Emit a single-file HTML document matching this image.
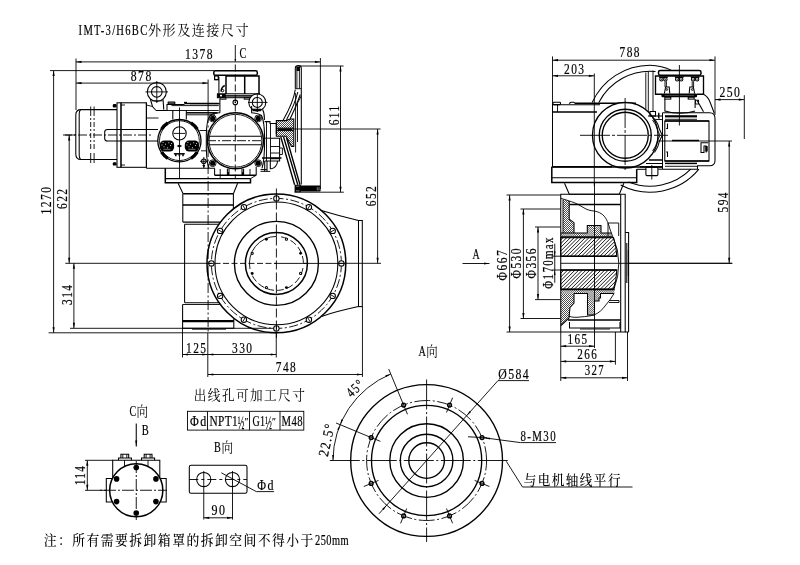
<!DOCTYPE html>
<html lang="zh"><head><meta charset="utf-8"><title>IMT-3/H6BC外形及连接尺寸</title>
<style>
html,body{margin:0;padding:0;background:#fff}
body{width:800px;height:565px;overflow:hidden;font-family:"Liberation Serif","Noto Serif CJK SC",serif}
svg{display:block;will-change:transform}
path,circle,rect,ellipse{fill:none;stroke:#000;stroke-linecap:butt;stroke-linejoin:miter}
.t{stroke-width:.9}
.m{stroke-width:1.05}
.k{stroke-width:1.5}
.kk{stroke-width:2.2}
.b{stroke-width:1.35}
.h{stroke-width:.7}
.h2{stroke-width:.9}
.f{fill:#000;stroke:none}
.fw{fill:#fff}
.d{stroke-dasharray:7 2 1.5 2}
.dd{stroke-dasharray:4 2}
text{fill:#000;stroke:none;font-family:"Liberation Serif","Noto Serif CJK SC",serif}
.c{font-family:"Liberation Serif","Noto Serif CJK SC",serif;font-weight:400}
.cb{font-family:"Liberation Serif","Noto Serif CJK SC",serif;font-weight:500}
.n{stroke:#000;stroke-width:.2}
</style></head>
<body>
<svg width="800" height="565" viewBox="0 0 800 565">
<g id="dims">
<text y="35.1"><tspan class="n" x="78.6" font-size="15" letter-spacing="1.8" textLength="69.85" lengthAdjust="spacingAndGlyphs">IMT-3/H6BC</tspan><tspan class="c" x="148" font-size="13.5" letter-spacing="1.5" textLength="101.96" lengthAdjust="spacingAndGlyphs">外形及连接尺寸</tspan></text>
<path class="t" d="M76 61.9L320.4 61.9"/>
<path class="f" d="M76 61.9L81.5 60.8L81.5 63Z"/>
<path class="f" d="M320.4 61.9L314.9 63L314.9 60.8Z"/>
<path class="t" d="M76 58.5L76 110"/>
<path class="t" d="M320.4 58L320.4 189"/>
<text class="n" x="185" y="59.3" font-size="14.4" letter-spacing="1.8" text-anchor="start" textLength="28.95" lengthAdjust="spacingAndGlyphs">1378</text>
<text class="n" x="239.6" y="57.5" font-size="15.5" letter-spacing="0" text-anchor="start" textLength="6.8" lengthAdjust="spacingAndGlyphs">C</text>
<path class="t" d="M76 83.1L208 83.1"/>
<path class="f" d="M76 83.1L81.5 82L81.5 84.2Z"/>
<path class="f" d="M208 83.1L202.5 84.2L202.5 82Z"/>
<text class="n" x="130.75" y="81" font-size="14.4" letter-spacing="1.8" text-anchor="start" textLength="21.96" lengthAdjust="spacingAndGlyphs">878</text>
<path class="t" d="M53.6 70.6L53.6 332.8"/>
<path class="f" d="M53.6 70.6L54.7 76.1L52.5 76.1Z"/>
<path class="f" d="M53.6 332.8L52.5 327.3L54.7 327.3Z"/>
<path class="t" d="M50 70.6L214 70.6"/>
<path class="t" d="M48.6 332.8L277.3 332.8"/>
<text class="n" x="37.75" y="200.8" font-size="14.4" letter-spacing="1.8" text-anchor="start" transform="rotate(-90 51.5 200.8)" textLength="28.95" lengthAdjust="spacingAndGlyphs">1270</text>
<path class="t" d="M69.2 135L69.2 263.3"/>
<path class="f" d="M69.2 135L70.3 140.5L68.1 140.5Z"/>
<path class="f" d="M69.2 263.3L68.1 257.8L70.3 257.8Z"/>
<text class="n" x="57.2" y="199" font-size="14.4" letter-spacing="1.8" text-anchor="start" transform="rotate(-90 67.2 199)" textLength="21.43" lengthAdjust="spacingAndGlyphs">622</text>
<path class="t" d="M65 135L76 135"/>
<path class="t" d="M73.9 263.3L73.9 328.3"/>
<path class="f" d="M73.9 263.3L75 268.8L72.8 268.8Z"/>
<path class="f" d="M73.9 328.3L72.8 322.8L75 322.8Z"/>
<text class="n" x="62" y="295" font-size="14.4" letter-spacing="1.8" text-anchor="start" transform="rotate(-90 72 295)" textLength="21.43" lengthAdjust="spacingAndGlyphs">314</text>
<path class="t" d="M70 328.3L276.25 328.3"/>
<path class="t" d="M65.3 263.3L206 263.3"/>
<path class="t" d="M340.5 66L340.5 192.2"/>
<path class="f" d="M340.5 66L341.6 71.5L339.4 71.5Z"/>
<path class="f" d="M340.5 192.2L339.4 186.7L341.6 186.7Z"/>
<path class="t" d="M299 66L343.6 66"/>
<path class="t" d="M294.5 192.2L343.8 192.2"/>
<text class="n" x="328.85" y="115.6" font-size="14.4" letter-spacing="1.8" text-anchor="start" transform="rotate(-90 338.6 115.6)" textLength="20.89" lengthAdjust="spacingAndGlyphs">611</text>
<path class="t" d="M377.6 129L377.6 263.3"/>
<path class="f" d="M377.6 129L378.7 134.5L376.5 134.5Z"/>
<path class="f" d="M377.6 263.3L376.5 257.8L378.7 257.8Z"/>
<path class="t" d="M276 129L380.6 129"/>
<text class="n" x="365.7" y="196.2" font-size="14.4" letter-spacing="1.8" text-anchor="start" transform="rotate(-90 375.7 196.2)" textLength="21.43" lengthAdjust="spacingAndGlyphs">652</text>
<path class="t" d="M346 263.3L381 263.3"/>
<path class="t" d="M182.5 354.5L207.8 354.5"/>
<path class="f" d="M182.5 354.5L188 353.4L188 355.6Z"/>
<path class="f" d="M207.8 354.5L202.3 355.6L202.3 353.4Z"/>
<path class="t" d="M207.8 354.5L276.25 354.5"/>
<path class="f" d="M207.8 354.5L213.3 353.4L213.3 355.6Z"/>
<path class="f" d="M276.25 354.5L270.75 355.6L270.75 353.4Z"/>
<text class="n" x="186" y="352.6" font-size="14.4" letter-spacing="1.8" text-anchor="start" textLength="21.43" lengthAdjust="spacingAndGlyphs">125</text>
<text class="n" x="232" y="352.6" font-size="14.4" letter-spacing="1.8" text-anchor="start" textLength="21.43" lengthAdjust="spacingAndGlyphs">330</text>
<path class="t" d="M207.8 374.5L362.45 374.5"/>
<path class="f" d="M207.8 374.5L213.3 373.4L213.3 375.6Z"/>
<path class="f" d="M362.45 374.5L356.95 375.6L356.95 373.4Z"/>
<text class="n" x="275.75" y="371.6" font-size="14.4" letter-spacing="1.8" text-anchor="start" textLength="21.43" lengthAdjust="spacingAndGlyphs">748</text>
<path class="t" d="M182.5 328.3L182.5 357.5"/>
<path class="t" d="M276.25 330.5L276.25 357.5"/>
<path class="t" d="M362.45 306.75L362.45 376.9"/>
<path class="t" d="M552.5 60.2L715 60.2"/>
<path class="f" d="M552.5 60.2L558 59.1L558 61.3Z"/>
<path class="f" d="M715 60.2L709.5 61.3L709.5 59.1Z"/>
<text class="n" x="619.5" y="57.4" font-size="14.4" letter-spacing="1.8" text-anchor="start" textLength="21.43" lengthAdjust="spacingAndGlyphs">788</text>
<path class="t" d="M552.5 56.4L552.5 104"/>
<path class="t" d="M715 56.4L715 115"/>
<path class="t" d="M552.5 75.8L594.3 75.8"/>
<path class="f" d="M552.5 75.8L558 74.7L558 76.9Z"/>
<path class="f" d="M594.3 75.8L588.8 76.9L588.8 74.7Z"/>
<text class="n" x="564" y="73.6" font-size="14.4" letter-spacing="1.8" text-anchor="start" textLength="21.43" lengthAdjust="spacingAndGlyphs">203</text>
<path class="t" d="M715 99.6L744.3 99.6"/>
<path class="f" d="M715 99.6L720.5 98.5L720.5 100.7Z"/>
<path class="f" d="M744.3 99.6L738.8 100.7L738.8 98.5Z"/>
<text class="n" x="719.45" y="97.2" font-size="14.4" letter-spacing="1.8" text-anchor="start" textLength="21.96" lengthAdjust="spacingAndGlyphs">250</text>
<path class="t" d="M744.3 95.2L744.3 139"/>
<path class="t" d="M729.2 141L729.2 263.3"/>
<path class="f" d="M729.2 141L730.3 146.5L728.1 146.5Z"/>
<path class="f" d="M729.2 263.3L728.1 257.8L730.3 257.8Z"/>
<path class="t" d="M626 141L732 141"/>
<path class="t" d="M629 263.3L732.5 263.3"/>
<text class="n" x="717.6" y="202.5" font-size="14.4" letter-spacing="1.8" text-anchor="start" transform="rotate(-90 727.6 202.5)" textLength="21.43" lengthAdjust="spacingAndGlyphs">594</text>
<path class="t" d="M560.75 346.2L594.5 346.2"/>
<path class="f" d="M560.75 346.2L566.25 345.1L566.25 347.3Z"/>
<path class="f" d="M594.5 346.2L589 347.3L589 345.1Z"/>
<text class="n" x="567.55" y="343.8" font-size="14.4" letter-spacing="1.8" text-anchor="start" textLength="20.89" lengthAdjust="spacingAndGlyphs">165</text>
<path class="t" d="M560.75 361.4L615.4 361.4"/>
<path class="f" d="M560.75 361.4L566.25 360.3L566.25 362.5Z"/>
<path class="f" d="M615.4 361.4L609.9 362.5L609.9 360.3Z"/>
<text class="n" x="577.25" y="358.9" font-size="14.4" letter-spacing="1.8" text-anchor="start" textLength="20.89" lengthAdjust="spacingAndGlyphs">266</text>
<path class="t" d="M560.75 377.8L627.5 377.8"/>
<path class="f" d="M560.75 377.8L566.25 376.7L566.25 378.9Z"/>
<path class="f" d="M627.5 377.8L622 378.9L622 376.7Z"/>
<text class="n" x="584.7" y="375.4" font-size="14.4" letter-spacing="1.8" text-anchor="start" textLength="20.36" lengthAdjust="spacingAndGlyphs">327</text>
<path class="t" d="M560.75 332L560.75 381"/>
<path class="t" d="M594.5 332L594.5 348"/>
<path class="t" d="M615.4 332L615.4 364.7"/>
<path class="t" d="M627.5 332L627.5 381"/>
<path class="t" d="M509.6 195L509.6 332"/>
<path class="f" d="M509.6 195L510.7 200.5L508.5 200.5Z"/>
<path class="f" d="M509.6 332L508.5 326.5L510.7 326.5Z"/>
<path class="t" d="M506.5 195L560.6 195"/>
<path class="t" d="M506.5 332L560.6 332"/>
<path class="t" d="M523.4 209L523.4 318.5"/>
<path class="f" d="M523.4 209L524.5 214.5L522.3 214.5Z"/>
<path class="f" d="M523.4 318.5L522.3 313L524.5 313Z"/>
<path class="t" d="M520.5 209L560.6 209"/>
<path class="t" d="M520.5 318.5L560.6 318.5"/>
<path class="t" d="M538 227L538 299.6"/>
<path class="f" d="M538 227L539.1 232.5L536.9 232.5Z"/>
<path class="f" d="M538 299.6L536.9 294.1L539.1 294.1Z"/>
<path class="t" d="M535 227L560.6 227"/>
<path class="t" d="M535 299.6L560.6 299.6"/>
<text class="n" x="492.3" y="265.4" font-size="14.4" letter-spacing="1.8" text-anchor="start" transform="rotate(-90 507.3 265.4)" textLength="31.58" lengthAdjust="spacingAndGlyphs">Φ667</text>
<text class="n" x="506.4" y="263.5" font-size="14.4" letter-spacing="1.8" text-anchor="start" transform="rotate(-90 521.4 263.5)" textLength="31.58" lengthAdjust="spacingAndGlyphs">Φ530</text>
<text class="n" x="521" y="263.5" font-size="14.4" letter-spacing="1.8" text-anchor="start" transform="rotate(-90 536 263.5)" textLength="31.58" lengthAdjust="spacingAndGlyphs">Φ356</text>
<path class="t" d="M554.75 243.7L554.75 282.8"/>
<path class="f" d="M554.75 256.2L553.95 251.2L555.55 251.2Z"/>
<path class="f" d="M554.75 270L555.55 275L553.95 275Z"/>
<path class="t" d="M551.5 256.2L560.6 256.2"/>
<path class="t" d="M551.5 270L560.6 270"/>
<text class="n" x="527.7" y="263.2" font-size="14.4" letter-spacing="1.8" text-anchor="start" transform="rotate(-90 553.2 263.2)" textLength="52.5" lengthAdjust="spacingAndGlyphs">Φ170max</text>
<text class="n" x="472.6" y="259" font-size="14.4" letter-spacing="0" text-anchor="start" textLength="7.2" lengthAdjust="spacingAndGlyphs">A</text>
<path class="t" d="M462.5 263.5L489.5 263.5"/>
<path class="f" d="M489.5 263.5L484 264.6L484 262.4Z"/>
</g>
<g id="front">
<path class="m" d="M117 109.6H81Q75.8 109.6 75.8 115V154Q75.8 159.5 81 159.5H117"/>
<path class="m" d="M80.5 109.8Q79.2 111 79.2 114V155Q79.2 158 80.5 159.3"/>
<path class="t" d="M90.7 106.5L90.7 116"/>
<path class="t" d="M90.7 153L90.7 163"/>
<path class="t" d="M90.7 118L90.7 151" stroke-dasharray="2 2 5 2"/>
<path class="t" d="M94.1 106.5L94.1 116"/>
<path class="t" d="M94.1 153L94.1 163"/>
<path class="t" d="M94.1 118L94.1 151" stroke-dasharray="2 2 5 2"/>
<rect class="m" x="117" y="102.8" width="4" height="64.5"/>
<rect class="m" x="121" y="102.8" width="25.4" height="64.5"/>
<rect class="f" x="112.8" y="104" width="3.8" height="3.4" rx="1.2"/>
<rect class="f" x="112.8" y="162.2" width="3.8" height="3.4" rx="1.2"/>
<path class="t" d="M121 105L125 105"/>
<path class="t" d="M121 165L125 165"/>
<path class="m" d="M158 129.4H107.5Q104.7 129.4 104.7 132V138.4Q104.7 141 107.5 141H158"/>
<path class="t" d="M63 135L152 135" stroke-dasharray="9 2 2 2"/>
<circle class="m" cx="156.8" cy="91.9" r="9.5"/>
<circle class="m" cx="156.8" cy="91.9" r="5.3"/>
<path class="t" d="M145.5 91.9L168 91.9"/>
<path class="t" d="M156.8 81L156.8 103"/>
<path class="m" d="M150.3 99L152.5 106.5L155.6 110"/>
<path class="m" d="M163 99.2L163.8 109.6"/>
<path class="t" d="M151.5 100.8L162.6 100.8"/>
<path class="t" d="M146.4 102.8V105L152.5 106.5"/>
<path class="m" d="M155.6 110.5H167V104.4H184.5"/>
<path class="k" d="M184.5 103.4L218.8 103.4"/>
<path class="t" d="M171.5 105.6L218.8 105.6"/>
<rect class="f" x="167.6" y="101.6" width="7.8" height="2.8" rx="0.8"/>
<path class="t" d="M168.6 103L174.4 103" style="stroke:#fff;stroke-width:.5"/>
<path class="k" d="M184 102.6L187 102.6"/>
<path class="t" d="M167 110.5L218.8 110.5"/>
<path class="k" d="M186.3 112.8L217.5 112.8"/>
<path class="t" d="M186.3 114.8L215 114.8"/>
<path class="t" d="M146.4 118L158.5 118"/>
<path class="m" d="M172.8 119.4V110M186.3 110V119.4"/>
<path class="t" d="M179.5 107.5L179.5 178"/>
<ellipse class="b" cx="179.4" cy="140.65" rx="21.6" ry="21.2"/>
<circle class="t" cx="179.4" cy="140.65" r="19.9"/>
<path class="kk" d="M197.26 152.25A21.3 21.3 0 0 1 191 158.51" style="stroke-width:3.2"/>
<path class="kk" d="M167.8 158.51A21.3 21.3 0 0 1 161.54 152.25" style="stroke-width:3.2"/>
<path class="kk" d="M161.54 129.05A21.3 21.3 0 0 1 167.8 122.79" style="stroke-width:3.2"/>
<path class="kk" d="M191 122.79A21.3 21.3 0 0 1 197.26 129.05" style="stroke-width:3.2"/>
<circle class="m" cx="179.5" cy="133.4" r="6.7"/>
<path class="t" d="M173.6 133.4L185.4 133.4"/>
<rect class="f" x="159.9" y="140.6" width="14.2" height="10.8" rx="4.2"/>
<rect class="f fw" x="162.55" y="141.95" width="0.9" height="0.9"/>
<rect class="f fw" x="165.05" y="143.75" width="0.9" height="0.9"/>
<rect class="f fw" x="168.35" y="142.35" width="0.9" height="0.9"/>
<rect class="f fw" x="170.15" y="145.15" width="0.9" height="0.9"/>
<rect class="f fw" x="163.55" y="146.35" width="0.9" height="0.9"/>
<rect class="f fw" x="167.15" y="147.35" width="0.9" height="0.9"/>
<rect class="f fw" x="161.55" y="144.55" width="0.9" height="0.9"/>
<rect class="f fw" x="171.15" y="143.15" width="0.9" height="0.9"/>
<path class="t" d="M163.5 149.2L170.5 149.4" style="stroke:#fff;stroke-width:.45"/>
<rect class="f" x="184.8" y="140.6" width="14.2" height="10.8" rx="4.2"/>
<rect class="f fw" x="187.45" y="141.95" width="0.9" height="0.9"/>
<rect class="f fw" x="189.95" y="143.75" width="0.9" height="0.9"/>
<rect class="f fw" x="193.25" y="142.35" width="0.9" height="0.9"/>
<rect class="f fw" x="195.05" y="145.15" width="0.9" height="0.9"/>
<rect class="f fw" x="188.45" y="146.35" width="0.9" height="0.9"/>
<rect class="f fw" x="192.05" y="147.35" width="0.9" height="0.9"/>
<rect class="f fw" x="186.45" y="144.55" width="0.9" height="0.9"/>
<rect class="f fw" x="196.05" y="143.15" width="0.9" height="0.9"/>
<path class="t" d="M188.4 149.2L195.4 149.4" style="stroke:#fff;stroke-width:.45"/>
<path class="f" d="M176.6 146L179.4 144.4L182.2 146L179.4 147.6Z"/>
<path class="k" d="M173.9 153.8L184.7 153.8"/>
<path class="k" d="M175.8 154V156.3M179.4 154V156.3M183 154V156.3"/>
<circle class="k" cx="235.45" cy="140.75" r="28"/>
<circle class="t" cx="235.45" cy="140.75" r="26.4"/>
<path class="m" d="M209 168.3Q206 160 206.3 140.7Q206 121 210 115.5Q213 112.8 220 112.8"/>
<path class="m" d="M251 112.8Q258 112.8 261.5 115.5Q264.6 121 264.6 140.7Q264.6 160 262 168.3"/>
<circle class="f" cx="212.7" cy="118.4" r="2.6"/>
<circle class="t" cx="212.7" cy="118.4" r="3.4"/>
<circle class="f" cx="258.2" cy="118.4" r="2.6"/>
<circle class="t" cx="258.2" cy="118.4" r="3.4"/>
<circle class="f" cx="212.7" cy="163.2" r="2.6"/>
<circle class="t" cx="212.7" cy="163.2" r="3.4"/>
<circle class="f" cx="258.2" cy="163.2" r="2.6"/>
<circle class="t" cx="258.2" cy="163.2" r="3.4"/>
<path class="m" d="M209.5 136.3L261.4 136.3"/>
<path class="m" d="M209.5 144.8L261.4 144.8"/>
<path class="t" d="M207 140.7L264 140.7" stroke-dasharray="9 2 2 2"/>
<path class="t" d="M199.5 130.5L206.6 130.5"/>
<path class="t" d="M201 150.8L206.6 150.8"/>
<path class="t" d="M235.3 45L235.3 61.5"/>
<path class="f" d="M235.3 62L234.5 59L236.1 59Z"/>
<path class="t" d="M235.3 64.5L235.3 178" stroke-dasharray="7 3"/>
<rect class="k" x="213.8" y="70.8" width="43.5" height="4.5" rx="1.6"/>
<path class="k" d="M226 94V76H259V94"/>
<path class="k" d="M244.7 76L244.7 94"/>
<path class="m" d="M214.6 75.4V79.6H218.6V76.2M218.9 77V93.7"/>
<rect class="m" x="214.6" y="76" width="3.6" height="3.6"/>
<path class="k" d="M224.8 85.5Q221.5 87 221 91.5"/>
<circle class="t" cx="222.6" cy="90.6" r="1.2"/>
<rect class="m" x="217.4" y="93.8" width="42.2" height="3.9"/>
<rect class="f" x="217.6" y="94" width="8.4" height="3.6" rx="0.8"/>
<rect class="f fw" x="220" y="94.8" width="2" height="1.6"/>
<path class="k" d="M226 95.9L252 95.9"/>
<rect class="t" x="220" y="97.7" width="6" height="1.5"/>
<rect class="t" x="244.2" y="97.7" width="6.4" height="1.5"/>
<path class="m" d="M219.9 99.2V112.8M251.6 99.2V106"/>
<circle class="m" cx="235.3" cy="102.4" r="2.3"/>
<circle class="f" cx="235.3" cy="102.4" r="0.8"/>
<path class="t" d="M190 103.75L219.9 103.75"/>
<circle class="m fw" cx="257.3" cy="102.4" r="8.5"/>
<circle class="m" cx="257.3" cy="102.4" r="5"/>
<path class="t" d="M248 102.4L267.5 102.4"/>
<path class="t" d="M257.3 93L257.3 112"/>
<rect class="f" x="252.5" y="109.2" width="8.6" height="2"/>
<path class="t" d="M252.5 109.2L261.1 109.2"/>
<path class="m" d="M251.6 106V112.6M262.5 109.3Q264.6 113 264.4 120"/>
<path class="m" d="M264.6 121.6H270V123.4H277"/>
<path class="t" d="M266.5 121.6L266.5 161"/>
<path class="m" d="M264.6 161H279.6V138.2H270.5"/>
<path class="t" d="M270.5 123.4L270.5 161"/>
<path class="t" d="M264.6 138.2L270.5 138.2"/>
<path class="t" d="M270.5 146.5L279.6 146.5"/>
<path class="t" d="M270.5 153L279.6 153"/>
<path class="k" d="M270.5 158.5L279.6 158.5"/>
<path class="t" d="M279.6 148H282.4V154.5H279.6"/>
<path class="k" d="M262 158L281.5 158"/>
<path class="m" d="M264.7 161V171.4M267 161V171.4M270.3 161V169"/>
<path class="m" d="M260.5 169.6L267 169.6"/>
<path class="t" d="M260.5 171.4L270.3 171.4"/>
<path class="m" d="M270.3 169Q277 168 277.6 161"/>
<clipPath id="hub1"><path d="M276.3 120.6H286L290 119H293.8V128.2H276.3ZM276.3 130.6H293.8V146.5H291.5L286 136.3H276.3Z"/></clipPath>
<g clip-path="url(#hub1)">
<path class="h" d="M247 118L276 147M249 118L278 147M251 118L280 147M253 118L282 147M255 118L284 147M257 118L286 147M259 118L288 147M261 118L290 147M263 118L292 147M265 118L294 147M267 118L296 147M269 118L298 147M271 118L300 147M273 118L302 147M275 118L304 147M277 118L306 147M279 118L308 147M281 118L310 147M283 118L312 147M285 118L314 147M287 118L316 147M289 118L318 147M291 118L320 147M293 118L322 147M295 118L324 147"/>
</g>
<path class="m" d="M276.3 120.6H286L290 119H293.8V146.5H291.5L286 136.3H276.3Z"/>
<path class="m" d="M276.3 128.2L293.8 128.2"/>
<path class="m" d="M276.3 130.6L293.8 130.6"/>
<path class="k" d="M278 129.4L292 129.4"/>
<path class="m" d="M276.3 123L276.3 134"/>
<path class="m" d="M295.3 88.7V68.3Q295.3 65.6 298.3 65.6Q301.3 65.6 301.3 68.3V184.4"/>
<path class="t" d="M296.9 67L296.9 88.7"/>
<path class="t" d="M299.4 67L299.4 88.7"/>
<rect class="f" x="296.6" y="66.5" width="3.2" height="4.5"/>
<path class="t" d="M295.3 88.7L301.3 88.7"/>
<path class="m" d="M295.3 89.5Q293.5 102 283 120.5M300.3 94.5Q296.5 106 290.2 118.8M297.8 92Q295 104 286.5 119.8"/>
<path class="t" d="M295.6 93L295.6 152.5"/>
<path class="t" d="M301.3 96L297.5 103V142"/>
<path class="b" d="M280.8 137L294.6 184.8M283.6 137L297.8 184.8M286.6 138L300 184.8"/>
<path class="f" d="M294.6 184.8H300.5L301 185.4H320L320.6 186V191L320 191.6H301L300.5 192.2H294.6Z"/>
<path class="t" d="M317.3 187.2L317.3 190.4" style="stroke:#fff;stroke-width:.5"/>
<path class="t" d="M319 187.2L319 190.4" style="stroke:#fff;stroke-width:.5"/>
<path class="t" d="M296 186.3L299.5 186" style="stroke:#fff;stroke-width:.5"/>
<path class="t" d="M296 190.8L299.5 191" style="stroke:#fff;stroke-width:.5"/>
<path class="m" d="M146.4 168.2L215 168.2"/>
<path class="m" d="M146.4 102.8L146.4 168.2"/>
<path class="k" d="M165.3 168.2V182.8H250.5V178.6"/>
<path class="m" d="M165.3 178.6L250.5 178.6"/>
<path class="t" d="M250.5 178.6L256.2 175.3"/>
<path class="m" d="M214.6 168.4L214.6 175.3"/>
<path class="k" d="M214.6 175.3L256.2 175.3"/>
<path class="m" d="M256.2 167L256.2 175.3"/>
<path class="t" d="M220.2 169L220.2 178.6"/>
<path class="t" d="M250 169L250 175.3"/>
<path class="m" d="M227.4 168.7L227.4 175.3"/>
<path class="m" d="M229 168.7L229 175.3"/>
<rect class="f" x="227.4" y="172.2" width="1.6" height="3"/>
<path class="m" d="M242 168.7L242 175.3"/>
<path class="m" d="M243.6 168.7L243.6 175.3"/>
<rect class="f" x="242" y="172.2" width="1.6" height="3"/>
<circle class="m" cx="203.8" cy="161.3" r="2.3"/>
<path class="t" d="M203.8 157L203.8 168"/>
<path class="t" d="M200 161.3L207.6 161.3"/>
<path class="f" d="M202.3 165L205.3 165L203.8 168Z"/>
<path class="m" d="M178.1 183.3L183.1 193.8M237.6 183.3L233.4 193.8"/>
<path class="k" d="M183.1 193.8L233.4 193.8"/>
<path class="k" d="M182.8 204.9L233.4 204.9"/>
<path class="m" d="M182.8 193.8L182.8 222.1"/>
<path class="m" d="M233.4 193.8L233.4 209"/>
<path class="m" d="M182.8 222.1L220.6 222.1"/>
<path class="m" d="M184.6 224.2L219.3 224.2"/>
<path class="m" d="M184.6 224.2L184.6 302.8"/>
<path class="m" d="M184.8 302.8L218.7 302.8"/>
<path class="t" d="M182.6 304.5L219.9 304.5"/>
<path class="m" d="M182.6 304.5V328.3H233.8V318.7"/>
<path class="kk" d="M182.6 321.2L233.8 321.2"/>
<path class="t" d="M192 329.2L226 329.2"/>
<path class="t" d="M208.1 79.5L208.1 113"/>
<path class="t" d="M208.1 113L208.1 333" stroke-dasharray="10 2.5 2 2.5"/>
<path class="t" d="M207.8 333L207.8 377"/>
</g>
<g id="gear">
<path class="m" d="M320.5 210.2Q338 215.5 358.5 220.5M358.5 306.6Q338 311 321.5 316.4"/>
<rect class="m" x="358.5" y="220.5" width="3.8" height="86.1"/>
<circle class="k" cx="276.4" cy="263.4" r="69.4"/>
<circle class="m" cx="276.4" cy="263.4" r="61.4"/>
<circle class="t" cx="276.4" cy="263.4" r="65" stroke-dasharray="9 2.5 2 2.5"/>
<circle class="m fw" cx="341.4" cy="263.4" r="2.7"/>
<path class="t" d="M339.2 263.4L343.6 263.4"/>
<circle class="m fw" cx="332.69" cy="295.9" r="2.7"/>
<path class="t" d="M330.79 294.8L334.6 297"/>
<circle class="m fw" cx="308.9" cy="319.69" r="2.7"/>
<path class="t" d="M307.8 317.79L310 321.6"/>
<circle class="m fw" cx="276.4" cy="328.4" r="2.7"/>
<path class="t" d="M276.4 326.2L276.4 330.6"/>
<circle class="m fw" cx="243.9" cy="319.69" r="2.7"/>
<path class="t" d="M245 317.79L242.8 321.6"/>
<circle class="m fw" cx="220.11" cy="295.9" r="2.7"/>
<path class="t" d="M222.01 294.8L218.2 297"/>
<circle class="m fw" cx="211.4" cy="263.4" r="2.7"/>
<path class="t" d="M213.6 263.4L209.2 263.4"/>
<circle class="m fw" cx="220.11" cy="230.9" r="2.7"/>
<path class="t" d="M222.01 232L218.2 229.8"/>
<circle class="m fw" cx="243.9" cy="207.11" r="2.7"/>
<path class="t" d="M245 209.01L242.8 205.2"/>
<circle class="m fw" cx="276.4" cy="198.4" r="2.7"/>
<path class="t" d="M276.4 200.6L276.4 196.2"/>
<circle class="m fw" cx="308.9" cy="207.11" r="2.7"/>
<path class="t" d="M307.8 209.01L310 205.2"/>
<circle class="m fw" cx="332.69" cy="230.9" r="2.7"/>
<path class="t" d="M330.79 232L334.6 229.8"/>
<circle class="b" cx="276.4" cy="263.4" r="42"/>
<circle class="k" cx="276.4" cy="263.4" r="31"/>
<path class="t" d="M249.99 269.01A27 27 0 0 1 276.4 236.4"/>
<path class="t" d="M281.09 236.81A27 27 0 0 1 303.4 263.4" stroke-dasharray="7 3"/>
<path class="t" d="M302.99 268.09A27 27 0 0 1 251.03 272.63" stroke-dasharray="7 3"/>
<path class="t" d="M276.4 232.4L276.4 236.4"/>
<path class="t" d="M303.4 263.4L307.4 263.4"/>
<circle class="m fw" cx="300.61" cy="273.43" r="1.1"/>
<circle class="f" cx="286.43" cy="287.61" r="1.45"/>
<circle class="m fw" cx="266.37" cy="287.61" r="1.1"/>
<circle class="f" cx="252.19" cy="273.43" r="1.45"/>
<circle class="m fw" cx="252.19" cy="253.37" r="1.1"/>
<circle class="f" cx="266.37" cy="239.19" r="1.45"/>
<circle class="m fw" cx="286.43" cy="239.19" r="1.1"/>
<circle class="f" cx="300.61" cy="253.37" r="1.45"/>
<path class="t" d="M276.4 188.5L276.4 338" stroke-dasharray="9 3"/>
<path class="t" d="M206 263.4L276.4 263.4" stroke-dasharray="6 2.5"/>
<path class="t" d="M274.4 263.4L346 263.4"/>
</g>
<g id="side">
<path class="m" d="M592.17 102.47A63.5 63.5 0 0 1 650 65.2"/>
<path class="m" d="M650 65.2Q662 65.5 671.5 70.4"/>
<path class="m" d="M598.81 102.51A57.5 57.5 0 0 1 655.51 71.46"/>
<path class="m" d="M698.93 169.18A63.5 63.5 0 0 1 620.68 185.03"/>
<path class="m" d="M690.8 169.22A57.5 57.5 0 0 1 628.46 182.01"/>
<path class="t" d="M645.8 72.5L645.8 112"/>
<path class="t" d="M653 70.5L653 112"/>
<path class="t" d="M648.3 71.5L648.3 112"/>
<path class="m" d="M552.5 104L552.5 166.8"/>
<path class="m" d="M552.5 104.8L600 104.8"/>
<path class="k" d="M552.5 112L597 112"/>
<path class="t" d="M557.5 104.8L557.5 112"/>
<rect class="m" x="553" y="102.2" width="7.5" height="2.4" rx="0.8"/>
<path class="m" d="M569 103.5L571 102.2H574L575 103.5"/>
<path class="k" d="M575 103.3L636 103.3"/>
<path class="k" d="M552.5 166.8L612 166.8"/>
<path class="k" d="M551.8 166.8V182.6H636.7V169.3"/>
<path class="m" d="M551.8 177.8L636.5 177.8"/>
<path class="m" d="M564.5 183.3L569.3 194.3M623.8 183.3L619.3 194.3"/>
<circle class="b fw" cx="625.25" cy="135.25" r="32.8"/>
<circle class="b" cx="625.25" cy="135.25" r="26"/>
<circle class="b" cx="625.25" cy="135.25" r="23"/>
<path class="k" d="M551.8 166.9L662.5 166.9"/>
<path class="t" d="M580 135.3L668 135.3" stroke-dasharray="30 2 3 2"/>
<path class="t" d="M625.1 98L625.1 172" stroke-dasharray="30 2 3 2"/>
<path class="m" d="M654.5 118.5Q658.5 124 659.3 129L662.3 135.3L659.3 141.5Q658.5 147 654.5 152.5"/>
<path class="t" d="M652.5 120Q656.5 125 657.5 130L660 135.3L657.5 140.5Q656.5 146 652.5 151"/>
<rect class="k" x="658.5" y="70.5" width="42.5" height="4.7" rx="1.7"/>
<path class="b" d="M662 94.2H655.5V76H703.5V94.2H697"/>
<circle class="m" cx="661.4" cy="79.2" r="1.7"/>
<circle class="m" cx="665.4" cy="79.2" r="1.7"/>
<path class="k" d="M659.1 77.2L667.7 77.2"/>
<circle class="f" cx="661.4" cy="79.2" r="0.6"/>
<circle class="f" cx="665.4" cy="79.2" r="0.6"/>
<circle class="m" cx="677.2" cy="79.2" r="1.7"/>
<circle class="m" cx="681.2" cy="79.2" r="1.7"/>
<path class="k" d="M674.9 77.2L683.5 77.2"/>
<circle class="f" cx="677.2" cy="79.2" r="0.6"/>
<circle class="f" cx="681.2" cy="79.2" r="0.6"/>
<circle class="m" cx="693.1" cy="79.2" r="1.7"/>
<circle class="m" cx="697.1" cy="79.2" r="1.7"/>
<path class="k" d="M690.8 77.2L699.4 77.2"/>
<circle class="f" cx="693.1" cy="79.2" r="0.6"/>
<circle class="f" cx="697.1" cy="79.2" r="0.6"/>
<path class="t" d="M665 81.3V87M666.4 81.3V87M692.2 81.3V87M693.6 81.3V87"/>
<path class="m" d="M664.4 93.5L665.6 87H669.2L669.8 93.5M689.2 93.5L689.8 87H693.4L694.6 93.5"/>
<circle class="t" cx="666.8" cy="89.5" r="0.9"/>
<circle class="t" cx="692.3" cy="89.5" r="0.9"/>
<rect class="f" x="661.4" y="93.6" width="35.7" height="3.6" rx="1.2"/>
<path class="t" d="M664.5 95.4L694 95.4" style="stroke:#777;stroke-width:.6"/>
<rect class="m" x="664.8" y="97.2" width="6" height="1.9"/>
<rect class="m" x="688.2" y="97.2" width="6" height="1.9"/>
<path class="m" d="M664.9 99.1V111.4M695.1 99.1V108"/>
<path class="t" d="M679.4 65L679.4 125.5"/>
<path class="m" d="M664.9 111Q680 115.5 695.1 111"/>
<path class="m" d="M703.5 94.2Q708 96.5 710 102L714.4 113.5"/>
<path class="m" d="M697 100.2L703.5 111.8"/>
<rect class="t" x="695.6" y="100.2" width="3" height="3.8"/>
<path class="m" d="M662.5 112.8H709.5Q715 112.8 715 118.5V160.5Q715 165.8 709.5 165.8H697.5V169.2H662.5"/>
<path class="m" d="M664.8 121H709V161H664.8Z"/>
<path class="k" d="M664.8 121L709 121"/>
<path class="k" d="M664.8 161L709 161"/>
<path class="m" d="M662.5 112.8L662.5 169.2"/>
<path class="t" d="M658.5 112.8L658.5 118"/>
<path class="kk" d="M665 116.3L697 116.3"/>
<path class="t" d="M665 119.3L697 119.3"/>
<path class="k" d="M665 163.4L697 163.4"/>
<path class="t" d="M665 166.3L697 166.3"/>
<path class="k" d="M672 140.5L699 140.5"/>
<path class="m" d="M708.2 142.8H701V152.5H704V146H706.2V152.5"/>
<rect class="f" x="705.3" y="146" width="2.4" height="5.5"/>
<path class="m" d="M667.5 123.5V128.5H666.2M667.5 157V152H666.2"/>
<rect class="m" x="650" y="111.5" width="5.5" height="4.5"/>
<path class="m" d="M648 116L662.5 116"/>
<path class="t" d="M655.5 119.5L662.5 119.5"/>
<path class="t" d="M659 112.8L659 119.5"/>
<path class="k" d="M649 160L662.5 160"/>
<path class="m" d="M646 163.5L662.5 163.5"/>
<path class="k" d="M640 166.8L662.5 166.8"/>
<rect class="m" x="645.9" y="167.3" width="12" height="8.3" rx="1"/>
<path class="t" d="M651.8 165L651.8 179.5"/>
<path class="m" d="M636.7 169.3L646.2 169.3"/>
<path class="m" d="M658.2 169.2L662.5 169.2"/>
<path class="t" d="M594.3 73.5L594.3 186"/>
</g>
<g id="sect">
<path class="m" d="M569.3 194.3L619.3 194.3"/>
<path class="m" d="M560.75 332V194.3H625.2V332Z"/>
<path class="m" d="M620.7 194.3L620.7 332"/>
<path class="m" d="M625.2 232.5H628.6V332"/>
<path class="m" d="M625.2 332L628.6 332"/>
<path class="k" d="M569.5 204.6L620.7 204.6"/>
<path class="t" d="M594.5 183L594.5 332"/>
<path class="t" d="M608 236V223H618.7V236"/>
<path class="t" d="M609 300.5H619V302.5H609"/>
<path class="t" d="M560.75 198.4C564 199 566 200 569.2 201C573 202 575 203 578 204.4C581 206 583 207.5 586 209C589 210.3 591 210.7 594 211C597 211.5 599 212.3 601 213.5C603.5 215 605 217 606.3 219.2C608 222.5 609 225.5 609.9 229C611 232 611.8 234 612.5 236"/>
<path class="t" d="M568.5 316C572 317.5 576 317.6 580 317C586 316.6 591 316 595 314.5C599 312.8 602.5 309.5 605 306C608.5 302 611.5 298 614 293.6"/>
<clipPath id="su1"><path d="M563 199.5L569.2 201V219.2L574 222.7V233H563Z"/></clipPath>
<g clip-path="url(#su1)">
<path class="h" d="M524 234L560 198M526 234L562 198M528 234L564 198M530 234L566 198M532 234L568 198M534 234L570 198M536 234L572 198M538 234L574 198M540 234L576 198M542 234L578 198M544 234L580 198M546 234L582 198M548 234L584 198M550 234L586 198M552 234L588 198M554 234L590 198M556 234L592 198M558 234L594 198M560 234L596 198M562 234L598 198M564 234L600 198M566 234L602 198M568 234L604 198M570 234L606 198M572 234L608 198M574 234L610 198M576 234L612 198M578 234L614 198"/>
</g>
<path class="t" d="M563 199.5V233"/>
<path class="m" d="M569.2 201V219.2L574 222.7V233"/>
<clipPath id="su2"><path d="M560.75 233H611.6L612.5 236.7H560.75ZM587.3 225.4H601V233H587.3Z"/></clipPath>
<g clip-path="url(#su2)">
<path class="h" d="M548 225L560 237M550.1 225L562.1 237M552.2 225L564.2 237M554.3 225L566.3 237M556.4 225L568.4 237M558.5 225L570.5 237M560.6 225L572.6 237M562.7 225L574.7 237M564.8 225L576.8 237M566.9 225L578.9 237M569 225L581 237M571.1 225L583.1 237M573.2 225L585.2 237M575.3 225L587.3 237M577.4 225L589.4 237M579.5 225L591.5 237M581.6 225L593.6 237M583.7 225L595.7 237M585.8 225L597.8 237M587.9 225L599.9 237M590 225L602 237M592.1 225L604.1 237M594.2 225L606.2 237M596.3 225L608.3 237M598.4 225L610.4 237M600.5 225L612.5 237M602.6 225L614.6 237M604.7 225L616.7 237M606.8 225L618.8 237M608.9 225L620.9 237M611 225L623 237M613.1 225L625.1 237"/>
</g>
<path class="m" d="M560.75 233H587.3V225.4H601V233H611.6"/>
<path class="k" d="M560.75 237L613 237"/>
<clipPath id="sl1"><path d="M561 293.5H574V303L570 307.5L569 318L561 325.5Z"/></clipPath>
<g clip-path="url(#sl1)">
<path class="h" d="M527 326L560 293M529 326L562 293M531 326L564 293M533 326L566 293M535 326L568 293M537 326L570 293M539 326L572 293M541 326L574 293M543 326L576 293M545 326L578 293M547 326L580 293M549 326L582 293M551 326L584 293M553 326L586 293M555 326L588 293M557 326L590 293M559 326L592 293M561 326L594 293M563 326L596 293M565 326L598 293M567 326L600 293M569 326L602 293M571 326L604 293M573 326L606 293M575 326L608 293M577 326L610 293"/>
</g>
<path class="m" d="M574 293.5V303L570 307.5L569 318L561 325.5"/>
<clipPath id="sl2"><path d="M561 289.6H614.5V293.5H561ZM587.5 293.5H600.5V298H599V301H594.5V315H587.5Z"/></clipPath>
<g clip-path="url(#sl2)">
<path class="h" d="M533 289L560 316M535.1 289L562.1 316M537.2 289L564.2 316M539.3 289L566.3 316M541.4 289L568.4 316M543.5 289L570.5 316M545.6 289L572.6 316M547.7 289L574.7 316M549.8 289L576.8 316M551.9 289L578.9 316M554 289L581 316M556.1 289L583.1 316M558.2 289L585.2 316M560.3 289L587.3 316M562.4 289L589.4 316M564.5 289L591.5 316M566.6 289L593.6 316M568.7 289L595.7 316M570.8 289L597.8 316M572.9 289L599.9 316M575 289L602 316M577.1 289L604.1 316M579.2 289L606.2 316M581.3 289L608.3 316M583.4 289L610.4 316M585.5 289L612.5 316M587.6 289L614.6 316M589.7 289L616.7 316M591.8 289L618.8 316M593.9 289L620.9 316M596 289L623 316M598.1 289L625.1 316M600.2 289L627.2 316M602.3 289L629.3 316M604.4 289L631.4 316M606.5 289L633.5 316M608.6 289L635.6 316M610.7 289L637.7 316M612.8 289L639.8 316M614.9 289L641.9 316M617 289L644 316"/>
</g>
<path class="m" d="M574 293.5H587.5V315H594.5V301H599V298H600.5V293.5H613.8"/>
<path class="k" d="M560.75 289.6L614.6 289.6"/>
<clipPath id="sv"><path d="M560.75 237.8H613.6Q616.5 247 616.8 256.2H560.75ZM560.75 270H616.8Q616.5 280 613.6 289H560.75Z"/></clipPath>
<g clip-path="url(#sv)">
<path class="h2" d="M507 290L560 237M510.7 290L563.7 237M514.4 290L567.4 237M518.1 290L571.1 237M521.8 290L574.8 237M525.5 290L578.5 237M529.2 290L582.2 237M532.9 290L585.9 237M536.6 290L589.6 237M540.3 290L593.3 237M544 290L597 237M547.7 290L600.7 237M551.4 290L604.4 237M555.1 290L608.1 237M558.8 290L611.8 237M562.5 290L615.5 237M566.2 290L619.2 237M569.9 290L622.9 237M573.6 290L626.6 237M577.3 290L630.3 237M581 290L634 237M584.7 290L637.7 237M588.4 290L641.4 237M592.1 290L645.1 237M595.8 290L648.8 237M599.5 290L652.5 237M603.2 290L656.2 237M606.9 290L659.9 237M610.6 290L663.6 237M614.3 290L667.3 237M618 290L671 237M621.7 290L674.7 237"/>
</g>
<path class="m" d="M560.75 237.8H613.6Q616.5 247 616.8 256.2H560.75Z"/>
<path class="m" d="M560.75 270H616.8Q616.5 280 613.6 289H560.75Z"/>
<path class="k" d="M560.75 256.2L616.8 256.2"/>
<path class="k" d="M560.75 270L616.8 270"/>
<path class="t" d="M613 236.7Q618.8 250 618.8 263.3Q618.8 277 613.8 289.6"/>
<path class="m" d="M594.5 256.2L594.5 270"/>
<path class="m" d="M626.8 243L626.8 283"/>
<path class="t" d="M628.3 250L628.3 276"/>
<path class="k" d="M568 320L620.7 320"/>
<path class="m" d="M569.5 322V328H620V322"/>
<path class="t" d="M580 329L610 329"/>
<path class="t" d="M560.75 263.3L732 263.3"/>
</g>
<g id="aview">
<text y="355.5"><tspan class="n" x="418.6" font-size="15" letter-spacing="0" textLength="7.4" lengthAdjust="spacingAndGlyphs">A</tspan><tspan class="c" x="426.2" font-size="13.5" letter-spacing="0" textLength="11.4" lengthAdjust="spacingAndGlyphs">向</tspan></text>
<circle class="b" cx="426.6" cy="460.5" r="75.9"/>
<circle class="b" cx="426.6" cy="460.5" r="55.1"/>
<circle class="b" cx="426.6" cy="460.5" r="36.8"/>
<circle class="b" cx="426.6" cy="460.5" r="26.3"/>
<circle class="b" cx="426.6" cy="460.5" r="17.8"/>
<circle class="t" cx="426.6" cy="460.5" r="60" stroke-dasharray="16 2.5 2 2.5" stroke-dashoffset="6"/>
<circle class="k fw" cx="482.03" cy="483.46" r="1.85"/>
<path class="t" d="M474.64 480.4L489.42 486.52"/>
<circle class="k fw" cx="449.56" cy="515.93" r="1.85"/>
<path class="t" d="M446.5 508.54L452.62 523.32"/>
<circle class="k fw" cx="403.64" cy="515.93" r="1.85"/>
<path class="t" d="M406.7 508.54L400.58 523.32"/>
<circle class="k fw" cx="371.17" cy="483.46" r="1.85"/>
<path class="t" d="M378.56 480.4L363.78 486.52"/>
<circle class="k fw" cx="371.17" cy="437.54" r="1.85"/>
<circle class="k fw" cx="403.64" cy="405.07" r="1.85"/>
<circle class="k fw" cx="449.56" cy="405.07" r="1.85"/>
<path class="t" d="M446.5 412.46L452.62 397.68"/>
<circle class="k fw" cx="482.03" cy="437.54" r="1.85"/>
<path class="t" d="M468.03 436.74L487.03 437.84"/>
<path class="t" d="M329.8 460.5L508.8 460.5" stroke-dasharray="30 2.5 2 2.5"/>
<path class="t" d="M426.6 379.5L426.6 542" stroke-dasharray="30 2.5 2 2.5"/>
<path class="t" d="M380.41 441.37L336.06 423"/>
<path class="t" d="M407.47 414.31L388.71 369.04"/>
<path class="t" d="M333 460.5A93.6 93.6 0 0 1 390.78 374.02"/>
<path class="f" d="M333 460.5L332.1 455L333.9 455Z"/>
<path class="f" d="M340.12 424.68L338.85 430.11L337.19 429.42Z"/>
<path class="f" d="M340.12 424.68L341.4 419.26L343.06 419.94Z"/>
<path class="f" d="M390.78 374.02L386.04 376.96L385.36 375.3Z"/>
<text class="n" x="349.01" y="391.91" font-size="14.4" letter-spacing="1.8" text-anchor="start" transform="rotate(-43 358.01 391.91)" textLength="19.29" lengthAdjust="spacingAndGlyphs">45°</text>
<text class="n" x="314.75" y="441.1" font-size="14.4" letter-spacing="1.8" text-anchor="start" transform="rotate(-78 331.25 441.1)" textLength="34.38" lengthAdjust="spacingAndGlyphs">22.5°</text>
<text class="n" x="498.15" y="379.2" font-size="14.4" letter-spacing="1.8" text-anchor="start" textLength="32.11" lengthAdjust="spacingAndGlyphs">Ø584</text>
<path class="t" d="M498 380.6L529 380.6"/>
<path class="t" d="M498 380.6L378.96 513.81"/>
<path class="f" d="M466.58 415.76L469.57 411.06L470.92 412.26Z"/>
<path class="f" d="M386.62 505.24L383.63 509.94L382.28 508.74Z"/>
<text class="n" x="520.5" y="440.6" font-size="14.4" letter-spacing="1.8" text-anchor="start" textLength="36.46" lengthAdjust="spacingAndGlyphs">8-M30</text>
<path class="t" d="M520.4 442.6L556 442.6"/>
<path class="t" d="M520.4 442.6L484.53 437.84"/>
<path class="f" d="M484.53 437.84L490.1 437.67L489.87 439.45Z"/>
<path class="t" d="M506.3 461.3L522.5 487"/>
<path class="t" d="M522.5 487L632.5 487"/>
<text class="cb" x="523.8" y="485" font-size="13.5" letter-spacing="1.5" text-anchor="start" textLength="98.1" lengthAdjust="spacingAndGlyphs">与电机轴线平行</text>
</g>
<g id="small">
<text class="c" x="193.8" y="400.3" font-size="13.5" letter-spacing="1.5" text-anchor="start" textLength="112.41" lengthAdjust="spacingAndGlyphs">出线孔可加工尺寸</text>
<rect class="t" x="187.5" y="411.3" width="116.3" height="18.8"/>
<path class="t" d="M207.5 411.3L207.5 430.1"/>
<path class="t" d="M249.5 411.3L249.5 430.1"/>
<path class="t" d="M280 411.3L280 430.1"/>
<text class="n" x="190.1" y="426" font-size="14.4" letter-spacing="1.8" text-anchor="start" textLength="17.78" lengthAdjust="spacingAndGlyphs">Φd</text>
<text y="426"><tspan class="n" x="209.5" font-size="14.4" letter-spacing="0.4" textLength="28.37" lengthAdjust="spacingAndGlyphs">NPT1</tspan><tspan class="n" x="237.8" dy="2.6" font-size="19" letter-spacing="0" textLength="6.6" lengthAdjust="spacingAndGlyphs">½</tspan><tspan class="n" x="244.6" dy="-3.4" font-size="11" letter-spacing="0" textLength="4" lengthAdjust="spacingAndGlyphs">″</tspan></text>
<text y="426"><tspan class="n" x="252.5" font-size="14.4" letter-spacing="0.4" textLength="12.84" lengthAdjust="spacingAndGlyphs">G1</tspan><tspan class="n" x="265.3" dy="2.6" font-size="19" letter-spacing="0" textLength="6.6" lengthAdjust="spacingAndGlyphs">½</tspan><tspan class="n" x="272.1" dy="-3.4" font-size="11" letter-spacing="0" textLength="4" lengthAdjust="spacingAndGlyphs">″</tspan></text>
<text class="n" x="281.5" y="426" font-size="14.4" letter-spacing="0.6" text-anchor="start" textLength="21.55" lengthAdjust="spacingAndGlyphs">M48</text>
<text y="416"><tspan class="n" x="129.6" font-size="15" letter-spacing="0" textLength="6.6" lengthAdjust="spacingAndGlyphs">C</tspan><tspan class="c" x="136.6" font-size="13.5" letter-spacing="0" textLength="11.4" lengthAdjust="spacingAndGlyphs">向</tspan></text>
<path class="m" d="M136.25 423.5L136.25 446.5"/>
<path class="f" d="M136.25 446.5L135.25 440.5L137.25 440.5Z"/>
<text class="n" x="141.8" y="435.3" font-size="14.4" letter-spacing="0" text-anchor="start" textLength="7" lengthAdjust="spacingAndGlyphs">B</text>
<path class="m" d="M112.7 478.5V460.3H159.8V478.5"/>
<path class="t" d="M124.5 460.3L124.5 466.3"/>
<path class="t" d="M148 460.3L148 466.3"/>
<path class="m" d="M118.5 460.3V458H131.4V460.3M120.9 458V454.3H128.7V458M141.5 460.3V458H154.6V460.3M144.2 458V454.3H152V458"/>
<path class="t" d="M122.8 454.3L122.8 458"/>
<path class="t" d="M126.8 454.3L126.8 458"/>
<path class="t" d="M146.1 454.3L146.1 458"/>
<path class="t" d="M150.1 454.3L150.1 458"/>
<path class="m" d="M112 478.5H106.3V502H112M160.5 478.5H166.2V502H160.5"/>
<circle class="k fw" cx="136.25" cy="490.25" r="26.6"/>
<circle class="f" cx="136.25" cy="467.55" r="2.8"/>
<circle class="f" cx="136.25" cy="512.95" r="2.8"/>
<circle class="f" cx="155.91" cy="478.9" r="2.8"/>
<circle class="f" cx="155.91" cy="501.6" r="2.8"/>
<circle class="f" cx="116.59" cy="501.6" r="2.8"/>
<circle class="f" cx="116.59" cy="478.9" r="2.8"/>
<path class="t" d="M136.25 461L136.25 520" stroke-dasharray="12 2 2 2"/>
<path class="t" d="M100 490.25L167 490.25" stroke-dasharray="12 2 2 2" stroke-dashoffset="-4"/>
<path class="t" d="M87.3 460.3L87.3 490.3"/>
<path class="f" d="M87.3 460.3L88.4 465.8L86.2 465.8Z"/>
<path class="f" d="M87.3 490.3L86.2 484.8L88.4 484.8Z"/>
<path class="t" d="M85 460.3L113 460.3"/>
<path class="t" d="M85 490.3L106 490.3"/>
<text class="n" x="75.7" y="475.7" font-size="14.4" letter-spacing="1.8" text-anchor="start" transform="rotate(-90 85.2 475.7)" textLength="20.36" lengthAdjust="spacingAndGlyphs">114</text>
<text y="452"><tspan class="n" x="214" font-size="15" letter-spacing="0" textLength="6.8" lengthAdjust="spacingAndGlyphs">B</tspan><tspan class="c" x="221.4" font-size="13.5" letter-spacing="0" textLength="11.4" lengthAdjust="spacingAndGlyphs">向</tspan></text>
<rect class="m" x="189.3" y="465.3" width="57.7" height="28" rx="1.8"/>
<circle class="m" cx="203.75" cy="479.5" r="7.1"/>
<circle class="m" cx="232.5" cy="479.5" r="7.1"/>
<path class="t" d="M189.3 479.5L247 479.5" stroke-dasharray="9 3 3 3"/>
<path class="t" d="M203.75 471L203.75 519.5"/>
<path class="t" d="M232.5 471L232.5 519.5"/>
<path class="t" d="M203.75 517.8L232.5 517.8"/>
<path class="f" d="M203.75 517.8L209.25 516.7L209.25 518.9Z"/>
<path class="f" d="M232.5 517.8L227 518.9L227 516.7Z"/>
<text class="n" x="211.45" y="515.4" font-size="14.4" letter-spacing="1.8" text-anchor="start" textLength="15" lengthAdjust="spacingAndGlyphs">90</text>
<path class="t" d="M221.3 472.8L256.3 491.6"/>
<path class="t" d="M256.3 491.6L274 491.6"/>
<text class="n" x="257.2" y="489.8" font-size="14.4" letter-spacing="1.8" text-anchor="start" textLength="17.78" lengthAdjust="spacingAndGlyphs">Φd</text>
<text y="545"><tspan class="cb" x="43.8" font-size="13.5" letter-spacing="1.5" textLength="270.93" lengthAdjust="spacingAndGlyphs">注：所有需要拆卸箱罩的拆卸空间不得小于</tspan><tspan class="n" x="315" font-size="14.4" letter-spacing="0.6" textLength="34.02" lengthAdjust="spacingAndGlyphs">250mm</tspan></text>
</g>
</svg>
</body></html>
